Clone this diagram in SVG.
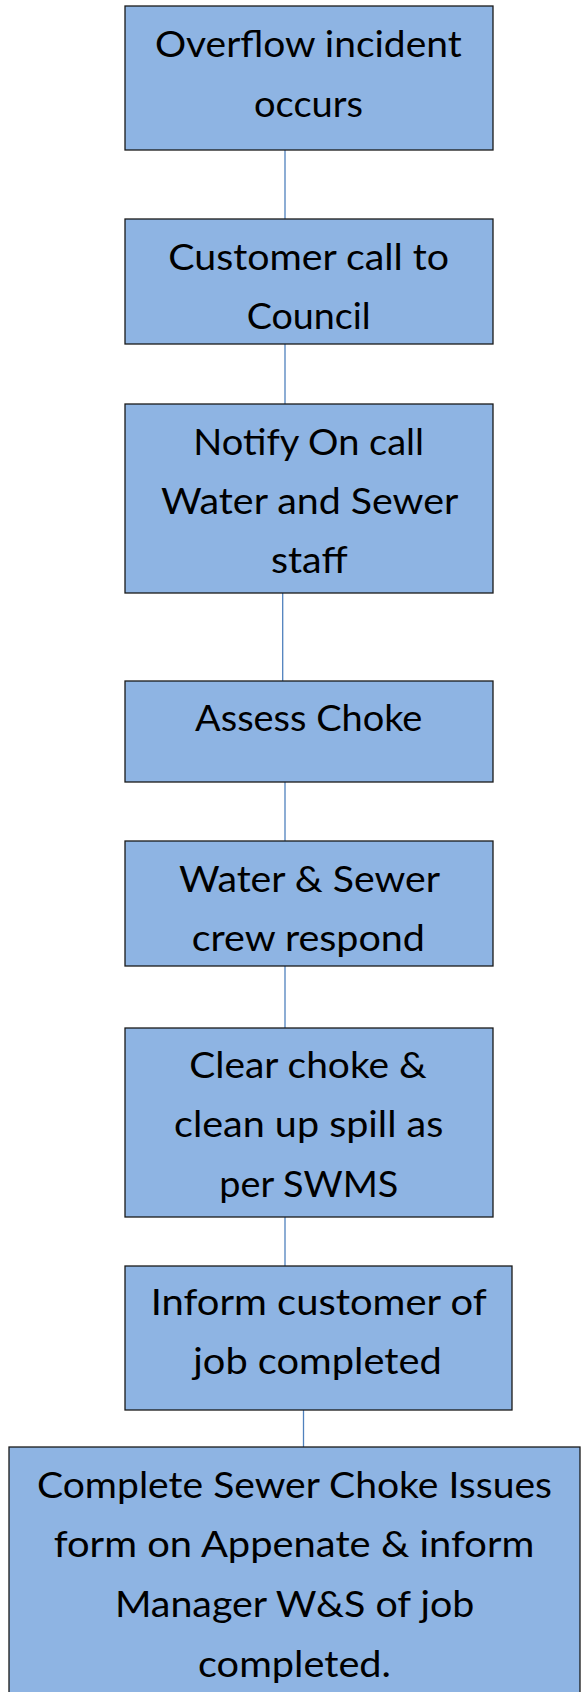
<svg xmlns="http://www.w3.org/2000/svg" width="581" height="1692" viewBox="0 0 581 1692">
<style>
.box{fill:#8EB4E3;stroke:#1a1a1a;stroke-width:1.3}
.t{font-family:Lato,"Open Sans","Liberation Sans",sans-serif;font-size:37px;fill:#000;text-anchor:middle}
.c{stroke:#4F81BD;stroke-width:1.3;fill:none}
</style>
<rect width="581" height="1692" fill="#fff"/>
<g id="connectors">
<line class="c" x1="285" y1="150" x2="285" y2="219"/>
<line class="c" x1="285" y1="344" x2="285" y2="404"/>
<line class="c" x1="282.7" y1="593" x2="282.7" y2="681"/>
<line class="c" x1="285" y1="782" x2="285" y2="841"/>
<line class="c" x1="285" y1="966" x2="285" y2="1028"/>
<line class="c" x1="285" y1="1217" x2="285" y2="1266"/>
<line class="c" x1="303.5" y1="1410" x2="303.5" y2="1447"/>
</g>
<g id="n1">
<rect class="box" x="125" y="6" width="368" height="144"/>
<text class="t" x="308.3" y="56.7" textLength="306.7" lengthAdjust="spacingAndGlyphs">Overflow incident</text>
<text class="t" x="308.5" y="116.7" textLength="109" lengthAdjust="spacingAndGlyphs">occurs</text>
</g>
<g id="n2">
<rect class="box" x="125" y="219" width="368" height="125"/>
<text class="t" x="308.7" y="270" textLength="280.7" lengthAdjust="spacingAndGlyphs">Customer call to</text>
<text class="t" x="308.7" y="329" textLength="124" lengthAdjust="spacingAndGlyphs">Council</text>
</g>
<g id="n3">
<rect class="box" x="125" y="404" width="368" height="189"/>
<text class="t" x="308.7" y="455" textLength="230.7" lengthAdjust="spacingAndGlyphs">Notify On call</text>
<text class="t" x="309.7" y="514" textLength="297.3" lengthAdjust="spacingAndGlyphs">Water and Sewer</text>
<text class="t" x="309.3" y="573" textLength="76.7" lengthAdjust="spacingAndGlyphs">staff</text>
</g>
<g id="n4">
<rect class="box" x="125" y="681" width="368" height="101"/>
<text class="t" x="308.7" y="730.7" textLength="227.3" lengthAdjust="spacingAndGlyphs">Assess Choke</text>
</g>
<g id="n5">
<rect class="box" x="125" y="841" width="368" height="125"/>
<text class="t" x="309.5" y="891.7" textLength="261" lengthAdjust="spacingAndGlyphs">Water &amp; Sewer</text>
<text class="t" x="308.3" y="950.7" textLength="233.3" lengthAdjust="spacingAndGlyphs">crew respond</text>
</g>
<g id="n6">
<rect class="box" x="125" y="1028" width="368" height="189"/>
<text class="t" x="308" y="1078.3" textLength="237.4" lengthAdjust="spacingAndGlyphs">Clear choke &amp;</text>
<text class="t" x="308.7" y="1137.3" textLength="269.3" lengthAdjust="spacingAndGlyphs">clean up spill as</text>
<text class="t" x="308.8" y="1196.7" textLength="179" lengthAdjust="spacingAndGlyphs">per SWMS</text>
</g>
<g id="n7">
<rect class="box" x="125" y="1266" width="387" height="144"/>
<text class="t" x="318.7" y="1315" textLength="336" lengthAdjust="spacingAndGlyphs">Inform customer of</text>
<text class="t" x="317.5" y="1374" textLength="248.4" lengthAdjust="spacingAndGlyphs">job completed</text>
</g>
<g id="n8">
<rect class="box" x="9" y="1447" width="571" height="260"/>
<text class="t" x="294.5" y="1498.3" textLength="515" lengthAdjust="spacingAndGlyphs">Complete Sewer Choke Issues</text>
<text class="t" x="294" y="1556.7" textLength="480.6" lengthAdjust="spacingAndGlyphs">form on Appenate &amp; inform</text>
<text class="t" x="294.6" y="1617.3" textLength="359.4" lengthAdjust="spacingAndGlyphs">Manager W&amp;S of job</text>
<text class="t" x="294.5" y="1676.7" textLength="193" lengthAdjust="spacingAndGlyphs">completed.</text>
</g>
</svg>
